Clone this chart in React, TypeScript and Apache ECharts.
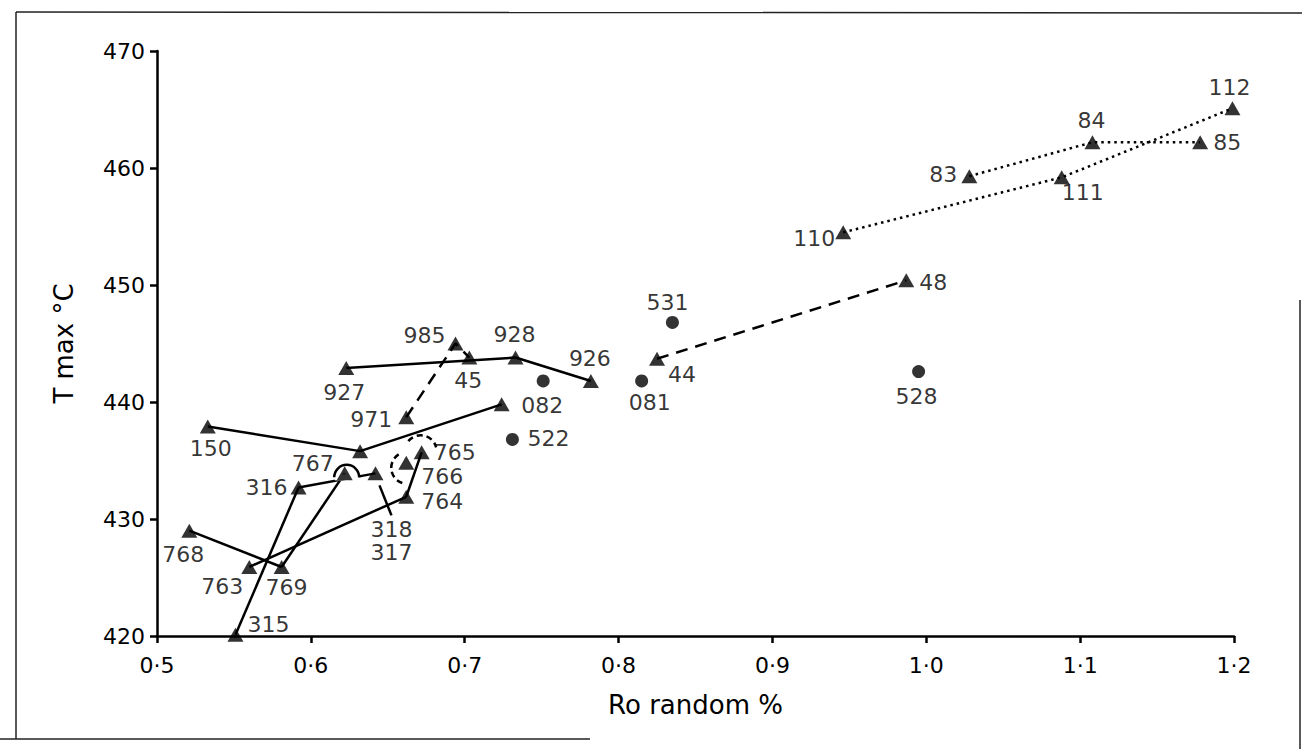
import React, { useEffect, useRef } from "react";
import * as echarts from "echarts";

// ---- axis ticks ----
const xTicks = [0.5, 0.6, 0.7, 0.8, 0.9, 1.0, 1.1, 1.2];
const yTicks = [420, 430, 440, 450, 460, 470];

// ---- triangle samples ----
const triIds = ["112", "84", "85", "83", "111", "110", "48", "44", "926", "928", "45", "985", "927", "971", "tA", "150", "tB", "767", "316", "318", "766", "765", "764", "768", "763", "769", "315"];
const triRo = [1.199, 1.108, 1.178, 1.028, 1.088, 0.946, 0.987, 0.825, 0.782, 0.733, 0.703, 0.694, 0.623, 0.662, 0.724, 0.533, 0.632, 0.622, 0.592, 0.642, 0.662, 0.672, 0.662, 0.521, 0.56, 0.581, 0.551];
const triTmax = [465.1, 462.2, 462.2, 459.3, 459.2, 454.5, 450.4, 443.7, 441.8, 443.8, 443.8, 445.0, 442.9, 438.7, 439.8, 437.9, 435.8, 433.9, 432.7, 433.9, 434.8, 435.7, 431.9, 429.0, 425.9, 425.9, 420.1];

// ---- circle samples ----
const dotIds = ["531", "528", "081", "082", "522"];
const dotRo = [0.835, 0.995, 0.815, 0.751, 0.731];
const dotTmax = [446.8, 442.6, 441.8, 441.8, 436.8];

// ---- connections ----
const solidLinks = [["927", "928", "926"], ["150", "tB", "tA"], ["316", "318"], ["315", "316"], ["768", "769"], ["763", "764"], ["769", "767"], ["764", "765"]];
const dashedLinks = [["971", "985", "45"], ["44", "48"]];
const dottedLinks = [["83", "84", "85"], ["110", "111", "112"]];

// ---- label text / placement (styles) ----
const labelText: Record<string, string> = { tA: "", tB: "", "318": "318\n317" };
const labelOffset: Record<string, [number, number]> = {
  "112": [-3, -21], "84": [-1, -22], "85": [27, 0], "83": [-26, -2], "111": [21, 15], "110": [-29, 6],
  "48": [27, 2], "44": [25, 16], "531": [-5, -20], "081": [8, 22], "528": [-2, 25], "926": [-1, -22],
  "928": [-1, -23], "985": [-31, -8], "45": [-1, 23], "927": [-2, 24], "082": [-1, 25], "522": [36, -1],
  "971": [-35, 2], "150": [3, 22], "767": [-32, -10], "316": [-32, 0], "765": [33, 0], "766": [36, 14],
  "764": [36, 5], "318": [16, 68], "768": [-6, 24], "763": [-27, 20], "769": [5, 21], "315": [33, -10],
};

// annotation marks drawn around samples
const annotations = [
  { id: "767", kind: 0 }, // hump (line jumps over)
  { id: "766", kind: 1 }, // dashed ring
  { id: "765", kind: 2 }, // dashed cap
  { id: "318", kind: 3 }, // pointer from label
];

const FONT = "DejaVu Sans";

function triPos(id: string): [number, number] {
  const i = triIds.indexOf(id);
  return [triRo[i], triTmax[i]];
}

export default function App() {
  const ref = useRef<HTMLDivElement>(null);
  useEffect(() => {
    const el = ref.current!;
    const chart = echarts.init(el, null, { renderer: "svg" });

    const mkLabel = (id: string) => ({
      show: true,
      position: "inside",
      formatter: labelText[id] !== undefined ? labelText[id] : id,
      offset: labelOffset[id] || [0, 0],
      color: "#000",
      fontSize: 22,
      fontFamily: FONT,
      lineHeight: 23,
      align: "center",
      verticalAlign: "middle",
      textBorderWidth: 0,
    });

    const lineSeries = (links: string[][], type: any, width: number) =>
      links.map((ids) => ({
        type: "line",
        data: ids.map(triPos),
        symbol: "none",
        silent: true,
        z: 2,
        lineStyle: { color: "#000", width, type, cap: "butt" },
      }));

    const option: any = {
      animation: false,
      backgroundColor: "#fff",
      grid: { left: 157, right: 68, top: 51, bottom: 113 },
      xAxis: {
        type: "value",
        min: xTicks[0],
        max: xTicks[xTicks.length - 1],
        interval: 0.1,
        name: "Ro random %",
        nameLocation: "middle",
        nameGap: 56,
        nameTextStyle: { fontSize: 26, fontFamily: FONT, color: "#000" },
        axisLine: { onZero: false, lineStyle: { color: "#000", width: 2.5 } },
        axisTick: { length: 7, lineStyle: { color: "#000", width: 2.5 } },
        axisLabel: {
          margin: 18,
          fontSize: 22,
          fontFamily: FONT,
          color: "#000",
          formatter: (v: number) => {
            const t = xTicks.find((k) => Math.abs(k - v) < 1e-6);
            return t === undefined ? "" : t.toFixed(1).replace(".", "·");
          },
        },
        splitLine: { show: false },
      },
      yAxis: {
        type: "value",
        min: yTicks[0],
        max: yTicks[yTicks.length - 1],
        interval: 10,
        name: "T max °C",
        nameLocation: "middle",
        nameGap: 80,
        nameTextStyle: { fontSize: 26, fontFamily: FONT, color: "#000" },
        axisLine: { onZero: false, lineStyle: { color: "#000", width: 2.5 } },
        axisTick: { length: 7, lineStyle: { color: "#000", width: 2.5 } },
        axisLabel: { margin: 12, fontSize: 22, fontFamily: FONT, color: "#000" },
        splitLine: { show: false },
      },
      graphic: [
        { type: "line", shape: { x1: 16, y1: 12, x2: 1302, y2: 13 }, style: { stroke: "#222", lineWidth: 1.5 } },
        { type: "line", shape: { x1: 16, y1: 12, x2: 16, y2: 739 }, style: { stroke: "#222", lineWidth: 1.5 } },
        { type: "line", shape: { x1: 0, y1: 739, x2: 590, y2: 739 }, style: { stroke: "#222", lineWidth: 1.5 } },
        { type: "line", shape: { x1: 1300, y1: 300, x2: 1300, y2: 749 }, style: { stroke: "#222", lineWidth: 1.5 } },
      ],
      series: [
        ...lineSeries(solidLinks, "solid", 2.5),
        ...lineSeries(dashedLinks, [12, 8], 2.5),
        ...lineSeries(dottedLinks, [2.5, 4], 2.5),
        {
          type: "custom",
          silent: true,
          z: 3,
          data: annotations.map((a) => [...triPos(a.id), a.kind]),
          renderItem: (params: any, api: any) => {
            const p = api.coord([api.value(0), api.value(1)]);
            const kind = api.value(2);
            const stroke = { stroke: "#000", fill: "none", lineWidth: 2.5 };
            if (kind === 0) {
              const cx = p[0] + 2, cy = p[1] + 4;
              return {
                type: "group",
                children: [
                  { type: "rect", shape: { x: cx - 12, y: cy - 3, width: 24, height: 6 }, style: { fill: "#fff" }, z2: 0 },
                  { type: "arc", shape: { cx, cy, r: 12.5, startAngle: Math.PI, endAngle: 2 * Math.PI, clockwise: true }, style: stroke, z2: 1 },
                ],
              };
            }
            if (kind === 1) {
              return {
                type: "arc",
                shape: { cx: p[0] + 1, cy: p[1] + 5, r: 16, startAngle: 0.6 * Math.PI, endAngle: 1.35 * Math.PI, clockwise: true },
                style: { ...stroke, lineDash: [6, 4] },
              };
            }
            if (kind === 2) {
              return {
                type: "arc",
                shape: { cx: p[0] - 1, cy: p[1] - 1, r: 16, startAngle: 1.22 * Math.PI, endAngle: 1.92 * Math.PI, clockwise: true },
                style: { ...stroke, lineDash: [6, 4] },
              };
            }
            return {
              type: "line",
              shape: { x1: p[0] + 4, y1: p[1] + 12, x2: p[0] + 16, y2: p[1] + 42 },
              style: { stroke: "#000", lineWidth: 2.5 },
            };
          },
        },
        {
          type: "scatter",
          silent: true,
          z: 5,
          symbol: "triangle",
          symbolSize: [16, 14],
          itemStyle: { color: "#000" },
          data: triIds.map((id, i) => ({ value: [triRo[i], triTmax[i]], label: mkLabel(id) })),
        },
        {
          type: "scatter",
          silent: true,
          z: 5,
          symbol: "circle",
          symbolSize: 13,
          itemStyle: { color: "#000" },
          data: dotIds.map((id, i) => ({ value: [dotRo[i], dotTmax[i]], label: mkLabel(id) })),
        },
      ],
    };
    chart.setOption(option);
    return () => chart.dispose();
  }, []);
  return (
    <div
      ref={ref}
      style={{ position: "fixed", left: 0, top: 0, width: 1302, height: 749, background: "#fff" }}
    />
  );
}
